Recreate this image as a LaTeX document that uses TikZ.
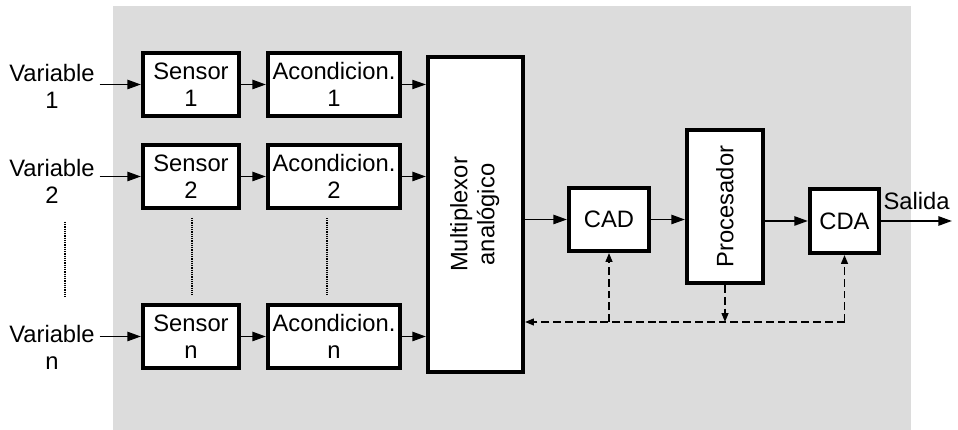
\documentclass[tikz,border=0pt]{standalone}
\usepackage{fontspec}
\setmainfont{Liberation Sans}
\usepackage{xcolor}
\usepackage{tikz}
\usetikzlibrary{arrows.meta,calc,positioning}
\definecolor{panelgray}{RGB}{220,220,220}

\begin{document}
\begin{tikzpicture}[
  every node/.style={font=\fontsize{16.9}{19.1}\selectfont},
  blk/.style={draw, line width=2.9pt, fill=white, inner sep=1pt, align=center},
  sig/.style={-{Triangle[length=3.4mm,width=2.3mm]}, line width=1.4pt},
  ctl/.style={-{Triangle[length=2.2mm,width=1.7mm]}, line width=1.1pt,
    dash pattern=on 5.6pt off 2.8pt},
  gap/.style={line width=1pt, dash pattern=on 0.8pt off 0.8pt},
  lbl/.style={align=center}
]
  \useasboundingbox (0,0) rectangle (23.95,10.75);
  % ── Grey panel ──
  \fill[panelgray] (2.825,0) rectangle (22.775,10.6);
  %
  % ── Input channels ──
  \node[lbl] (v1) at (1.3,8.6) {Variable\\1};
  \node[lbl] (v2) at (1.3,6.225) {Variable\\2};
  \node[lbl] (vn) at (1.3,2.075) {Variable\\n};
  \node[blk, minimum width=2.4cm, minimum height=1.575cm] (s1) at (4.775,8.6375) {Sensor\\1};
  \node[blk, minimum width=2.4cm, minimum height=1.575cm] (s2) at (4.775,6.3375) {Sensor\\2};
  \node[blk, minimum width=2.4cm, minimum height=1.575cm] (sn) at (4.775,2.3375) {Sensor\\n};
  \node[blk, minimum width=3.3cm, minimum height=1.575cm] (a1) at (8.35,8.6375) {Acondicion.\\1};
  \node[blk, minimum width=3.3cm, minimum height=1.575cm] (a2) at (8.35,6.3375) {Acondicion.\\2};
  \node[blk, minimum width=3.3cm, minimum height=1.575cm] (an) at (8.35,2.3375) {Acondicion.\\n};
  % dotted gaps between channel 2 and n
  \draw[gap] (1.625,5.2) -- (1.625,3.3);
  \draw[gap] (4.8,5.3) -- (4.8,3.375);
  \draw[gap] (8.175,5.3) -- (8.175,3.375);
  %
  % ── Multiplexer and conversion chain ──
  \node[blk, minimum width=2.375cm, minimum height=7.875cm] (mux) at (11.8875,5.3875)
    {\rotatebox{90}{\begin{tabular}{@{}c@{}}Multiplexor\\analógico\end{tabular}}};
  \node[blk, minimum width=2cm, minimum height=1.575cm] (cad) at (15.225,5.2625) {CAD};
  \node[blk, minimum width=1.9cm, minimum height=3.825cm] (proc) at (18.125,5.5875)
    {\rotatebox{90}{Procesador}};
  \node[blk, minimum width=1.725cm, minimum height=1.6cm] (cda) at (21.1125,5.225) {CDA};
  \coordinate (out) at (23.8,5.225);
  %
  % ── Signal path ──
  \draw[sig] (v1.east |- s1.west) -- (s1.west);
  \draw[sig] (v2.east |- s2.west) -- (s2.west);
  \draw[sig] (vn.east |- sn.west) -- (sn.west);
  \draw[sig] (s1.east) -- (a1.west);
  \draw[sig] (s2.east) -- (a2.west);
  \draw[sig] (sn.east) -- (an.west);
  \draw[sig, line width=0.9pt] (a1.east) -- (a1.east -| mux.west);
  \draw[sig] (a2.east) -- (a2.east -| mux.west);
  \draw[sig] (an.east) -- (an.east -| mux.west);
  \draw[sig] (mux.east |- cad.west) -- (cad.west);
  \draw[sig] (cad.east) -- (cad.east -| proc.west);
  \draw[sig] (proc.east |- cda.west) -- (cda.west);
  \draw[sig] (cda.east) -- (out) node[midway, above=4pt] (salida) {Salida};
  %
  % ── Control bus (dashed) ──
  \coordinate (busR) at (cda.south |- 0,2.7);
  \draw[ctl] (busR) -- (busR -| mux.east);
  \draw[ctl] (busR) -- (cda.south);
  \draw[ctl] (cad.south |- busR) -- (cad.south);
  \draw[ctl] (proc.south) -- (proc.south |- busR);
\end{tikzpicture}
\end{document}
